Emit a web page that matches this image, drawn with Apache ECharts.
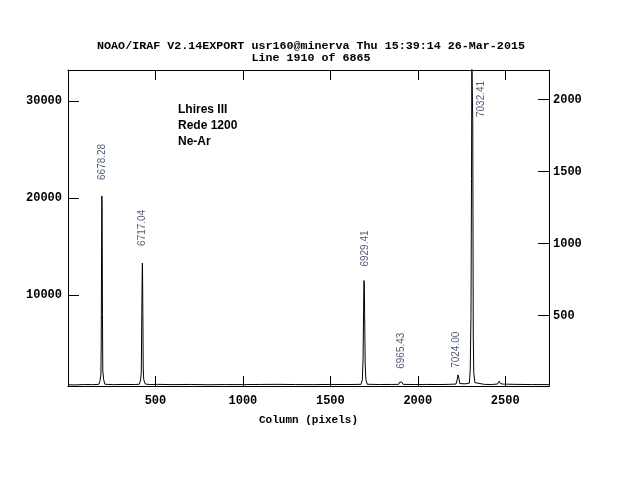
<!DOCTYPE html>
<html>
<head>
<meta charset="utf-8">
<script src="https://cdn.jsdelivr.net/npm/echarts@6/dist/echarts.min.js"></script>
<style>html,body{margin:0;padding:0;background:#fff}#c{width:622px;height:478px}</style>
</head>
<body>
<div id="c"></div>
<script>
// Spectrum samples (column in pixels, counts)
const pixelCols = [0,40,90,140,176,183,188,190,192,193.5,195,197,199,204,211,260,320,380,408,415,419,421,423,425,426,428,430,433,442,470,520,600,700,800,900,1000,1100,1200,1300,1400,1500,1600,1675,1683,1687,1690,1692,1694,1696,1699,1703,1711,1780,1850,1890,1897,1903,1909,1916,1980,2050,2120,2180,2218,2225,2230,2235,2240,2270,2295,2300,2304,2307,2309,2312,2314,2317,2320,2326,2335,2380,2420,2455,2465,2472,2478,2485,2550,2650,2750];
const counts =    [780,760,800,790,820,1200,1800,5000,15000,20200,19000,8000,2200,1300,830,790,810,800,830,1300,2000,6000,10300,13300,13000,8000,2500,1300,850,800,820,790,810,780,800,790,810,820,800,790,810,800,820,1300,3500,8500,11500,11200,8000,3000,1300,830,800,810,820,1050,1250,1050,820,800,810,800,820,850,1300,1800,1400,900,870,950,2500,8000,22000,34000,34000,28000,6000,2000,1000,850,820,800,850,1150,900,1100,850,820,800,790];

// Line identifications (wavelength labels)
const lineNames = ['6678.28','6717.04','6929.41','6965.43','7024.00','7032.41'];
const labelCols = [194, 422, 1700, 1903, 2217, 2365];
const labelCounts = [21860, 15070, 12940, 2420, 2520, 28340];

const xTicksMax = 2750;
const leftMin = 650, leftMax = 33180;
const rightMin = 12, rightMax = 2206;

const titleLines = ['NOAO/IRAF V2.14EXPORT usr160@minerva Thu 15:39:14 26-Mar-2015', 'Line 1910 of 6865'];
const noteLines = ['Lhires III', 'Rede 1200', 'Ne-Ar'];

const chart = echarts.init(document.getElementById('c'), null, {renderer: 'canvas'});
const mono = 'Liberation Mono';
const axisStyle = {show: true, onZero: false, lineStyle: {color: '#000', width: 1}};
const tickStyle = {show: true, inside: true, length: 10, lineStyle: {color: '#000', width: 1}};

chart.setOption({
  animation: false,
  backgroundColor: '#fff',
  title: [
    {text: titleLines.join('\n'), left: 'center', top: 35,
     textStyle: {fontFamily: mono, fontWeight: 'bold', fontSize: 11.7, color: '#000', lineHeight: 12}},
    {text: noteLines.join('\n'), left: 173, top: 97,
     textStyle: {fontFamily: 'Liberation Sans', fontWeight: 'bold', fontSize: 12, color: '#000', lineHeight: 16}}
  ],
  grid: {left: 68, right: 73, top: 70, bottom: 92},
  xAxis: [
    {type: 'value', min: 0, max: xTicksMax, interval: 500, position: 'bottom',
     name: 'Column (pixels)', nameLocation: 'middle', nameGap: 29,
     nameTextStyle: {fontFamily: mono, fontWeight: 'bold', fontSize: 11, color: '#000'},
     axisLine: axisStyle, axisTick: tickStyle, splitLine: {show: false},
     axisLabel: {fontFamily: mono, fontWeight: 'bold', fontSize: 12, color: '#000', margin: 9,
       formatter: v => (v === 0 || v > 2500) ? '' : String(v)}},
    {type: 'value', min: 0, max: xTicksMax, interval: 500, position: 'top',
     axisLine: axisStyle, axisTick: tickStyle, splitLine: {show: false},
     axisLabel: {show: false}}
  ],
  yAxis: [
    {type: 'value', min: leftMin, max: leftMax, splitNumber: 3, position: 'left',
     axisLine: axisStyle, axisTick: {show: true, inside: true, length: 11, lineStyle: {color: '#000'}},
     splitLine: {show: false},
     axisLabel: {showMinLabel: false, showMaxLabel: false, fontFamily: mono, fontWeight: 'bold', fontSize: 12, color: '#000', margin: 6,
       formatter: v => (v % 10000 === 0) ? String(v) : ''}},
    {type: 'value', min: rightMin, max: rightMax, splitNumber: 4, position: 'right',
     axisLine: axisStyle, axisTick: {show: true, inside: true, length: 11, lineStyle: {color: '#000'}},
     splitLine: {show: false},
     axisLabel: {showMinLabel: false, showMaxLabel: false, fontFamily: mono, fontWeight: 'bold', fontSize: 12, color: '#000', margin: 4,
       formatter: v => (v % 500 === 0) ? String(v) : ''}}
  ],
  series: [
    {type: 'line', xAxisIndex: 0, yAxisIndex: 0, showSymbol: false, symbol: 'none', clip: true,
     lineStyle: {color: '#000', width: 1}, data: pixelCols.map((c, i) => [c, counts[i]])},
    {type: 'scatter', xAxisIndex: 0, yAxisIndex: 0, symbolSize: 0.1, silent: true,
     data: labelCols.map((c, i) => ({value: [c, labelCounts[i]], name: lineNames[i]})),
     label: {show: true, position: 'inside', rotate: 90, align: 'left', verticalAlign: 'middle',
       formatter: p => p.name, fontFamily: 'Liberation Sans', fontSize: 10, color: '#1e3050'}}
  ]
});
</script>
</body>
</html>
